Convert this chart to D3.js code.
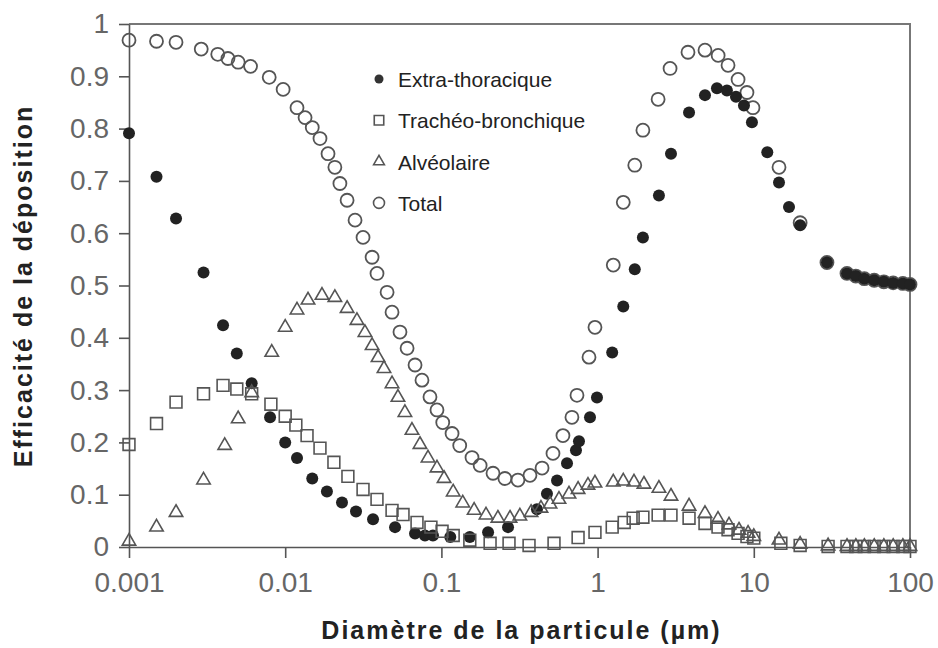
<!DOCTYPE html>
<html>
<head>
  <meta charset="utf-8">
  <title>Efficacité de la déposition</title>
  <style>
    body { margin: 0; background: #fff; }
    svg { font-family: "Liberation Sans", Arial, sans-serif; }
  </style>
</head>
<body>
  <script src="https://cdn.jsdelivr.net/npm/d3@7"></script>
  <script>
    // ---- data ----
    // Extra-thoracique (filled circles)
    var etD = [0.001, 0.0015, 0.002, 0.003, 0.004, 0.0049, 0.0061, 0.008, 0.01, 0.0119, 0.0149, 0.0185, 0.0231, 0.0284,
      0.0365, 0.0505, 0.0678, 0.0785, 0.0883, 0.114, 0.152, 0.199, 0.267, 0.409, 0.474, 0.55, 0.637, 0.727, 0.76, 0.894,
      0.991, 1.24, 1.46, 1.73, 1.95, 2.47, 2.95, 3.85, 4.87, 5.81, 6.73, 7.69, 8.65, 9.73, 12.2, 14.5, 16.8, 19.8, 29.4,
      39.5, 45, 51, 59, 68, 78, 90, 100];
    var etV = [0.791, 0.708, 0.628, 0.525, 0.424, 0.370, 0.313, 0.248, 0.200, 0.170, 0.131, 0.106, 0.085, 0.068,
      0.053, 0.038, 0.026, 0.022, 0.022, 0.019, 0.019, 0.028, 0.038, 0.072, 0.102, 0.127, 0.160, 0.185, 0.202, 0.248,
      0.286, 0.372, 0.460, 0.531, 0.592, 0.672, 0.752, 0.831, 0.864, 0.877, 0.873, 0.861, 0.844, 0.812, 0.755, 0.697, 0.650, 0.615, 0.544,
      0.523, 0.518, 0.513, 0.510, 0.507, 0.505, 0.504, 0.502];

    // Trachéo-bronchique (open squares)
    var tbD = [0.001, 0.0015, 0.002, 0.003, 0.004, 0.0049, 0.0061, 0.0081, 0.01, 0.0117, 0.0138, 0.0167, 0.0205, 0.0252,
      0.0315, 0.0387, 0.0483, 0.0568, 0.0698, 0.0857, 0.101, 0.119, 0.152, 0.205, 0.271, 0.364, 0.526, 0.75, 0.962,
      1.24, 1.48, 1.69, 1.95, 2.44, 2.95, 3.85, 4.87, 5.9, 6.84, 7.93, 9.04, 10, 14.9, 19.8, 29.9, 39.5, 45, 51, 59,
      68, 78, 90, 100];
    var tbV = [0.196, 0.236, 0.277, 0.293, 0.309, 0.302, 0.293, 0.273, 0.250, 0.233, 0.213, 0.189, 0.162, 0.135,
      0.110, 0.091, 0.070, 0.062, 0.047, 0.038, 0.030, 0.022, 0.013, 0.007, 0.007, 0.003, 0.007, 0.018, 0.028,
      0.038, 0.047, 0.055, 0.057, 0.061, 0.061, 0.055, 0.045, 0.038, 0.033, 0.026, 0.020, 0.017, 0.007, 0.003, 0.001, 0.001, 0.001, 0.001, 0.001,
      0.001, 0.001, 0.001, 0.001];

    // Alvéolaire (open triangles)
    var alD = [0.001, 0.0015, 0.002, 0.003, 0.0041, 0.005, 0.0061, 0.0082, 0.01, 0.0119, 0.014, 0.0172, 0.0208, 0.0249,
      0.0288, 0.0324, 0.036, 0.0393, 0.0429, 0.0483, 0.0527, 0.0584, 0.0648, 0.0729, 0.0821, 0.0937, 0.104, 0.119,
      0.137, 0.162, 0.193, 0.23, 0.275, 0.318, 0.375, 0.434, 0.496, 0.566, 0.656, 0.75, 0.868, 0.962, 1.26, 1.46,
      1.71, 1.98, 2.47, 2.95, 3.85, 4.87, 5.9, 6.94, 8.04, 9.19, 10, 14.5, 19.8, 29.9, 39.5, 45, 51, 59, 68, 78, 90, 100];
    var alV = [0.011, 0.038, 0.066, 0.128, 0.194, 0.245, 0.295, 0.372, 0.420, 0.453, 0.472, 0.481, 0.477, 0.456,
      0.433, 0.410, 0.385, 0.362, 0.341, 0.312, 0.286, 0.257, 0.223, 0.196, 0.170, 0.151, 0.131, 0.105,
      0.084, 0.070, 0.061, 0.055, 0.055, 0.059, 0.066, 0.074, 0.082, 0.091, 0.101, 0.110, 0.118, 0.122, 0.124, 0.126,
      0.124, 0.120, 0.112, 0.097, 0.078, 0.064, 0.053, 0.042, 0.032, 0.026, 0.020, 0.013, 0.005, 0.002, 0.001, 0.001, 0.001, 0.001, 0.001, 0.001, 0.001, 0.001];

    // Total (open circles)
    var totD = [0.001, 0.0015, 0.002, 0.0029, 0.0037, 0.0043, 0.005, 0.006, 0.0079, 0.0097, 0.0119, 0.0134, 0.0149, 0.0167,
      0.0188, 0.0208, 0.0224, 0.0249, 0.028, 0.0315, 0.036, 0.0387, 0.0449, 0.0483, 0.0543, 0.0603, 0.0678, 0.0751,
      0.0845, 0.0937, 0.102, 0.117, 0.131, 0.157, 0.177, 0.214, 0.255, 0.309, 0.369, 0.441, 0.518, 0.6, 0.685, 0.738,
      0.881, 0.962, 1.26, 1.46, 1.73, 1.95, 2.44, 2.91, 3.79, 4.87, 5.91, 6.84, 7.93, 9.04, 9.88, 14.5, 19.8, 29.4,
      39.5, 45, 51, 59, 68, 78, 90, 100];
    var totV = [0.969, 0.967, 0.965, 0.952, 0.942, 0.934, 0.927, 0.919, 0.898, 0.875, 0.840, 0.821, 0.802, 0.781,
      0.752, 0.726, 0.695, 0.663, 0.625, 0.592, 0.554, 0.523, 0.487, 0.449, 0.411, 0.380, 0.348, 0.319,
      0.287, 0.262, 0.238, 0.217, 0.194, 0.171, 0.156, 0.141, 0.131, 0.128, 0.137, 0.151, 0.179, 0.213, 0.248, 0.290,
      0.363, 0.420, 0.539, 0.659, 0.730, 0.797, 0.856, 0.915, 0.946, 0.950, 0.940, 0.921, 0.894, 0.869, 0.840, 0.726, 0.620, 0.544,
      0.523, 0.518, 0.513, 0.510, 0.507, 0.505, 0.504, 0.502];

    var seriesNames = ["Extra-thoracique", "Trachéo-bronchique", "Alvéolaire", "Total"];

    var xTicks = [0.001, 0.01, 0.1, 1, 10, 100];
    var xTickLabels = ["0.001", "0.01", "0.1", "1", "10", "100"];
    var yTicks = [0, 0.1, 0.2, 0.3, 0.4, 0.5, 0.6, 0.7, 0.8, 0.9, 1];
    var yTickLabels = ["0", "0.1", "0.2", "0.3", "0.4", "0.5", "0.6", "0.7", "0.8", "0.9", "1"];

    var xTitle = "Diamètre de la particule (µm)";
    var yTitle = "Efficacité de la déposition";

    // ---- layout ----
    var width = 938;
    var height = 648;
    var plotLeft = 129, plotRight = 910, plotTop = 24, plotBottom = 547;
    var gray = "#555";

    var x = d3.scaleLog().domain([0.001, 100]).range([plotLeft, plotRight]);
    var y = d3.scaleLinear().domain([0, 1]).range([plotBottom, plotTop]);

    var svg = d3.select("body").append("svg")
      .attr("width", width)
      .attr("height", height);

    // frame (top and right)
    svg.append("path")
      .attr("d", "M" + plotLeft + "," + plotTop + "H" + plotRight + "V" + plotBottom)
      .attr("fill", "none")
      .attr("stroke", "#777")
      .attr("stroke-width", 2);

    // x axis
    var gx = svg.append("g")
      .attr("transform", "translate(0," + plotBottom + ")")
      .call(d3.axisBottom(x).tickValues(xTicks)
        .tickFormat(function (d, i) { return xTickLabels[i]; })
        .tickSize(11).tickSizeOuter(0).tickPadding(14));

    // y axis
    var gy = svg.append("g")
      .attr("transform", "translate(" + plotLeft + ",0)")
      .call(d3.axisLeft(y).tickValues(yTicks)
        .tickFormat(function (d, i) { return yTickLabels[i]; })
        .tickSize(10).tickSizeOuter(0).tickPadding(10));

    [gx, gy].forEach(function (g) {
      g.select(".domain").attr("stroke", gray).attr("stroke-width", 1.6);
      g.selectAll(".tick line").attr("stroke", gray).attr("stroke-width", 1.6);
      g.selectAll(".tick text")
        .attr("fill", "#666")
        .style("font-size", "28px")
        .style("font-family", "'Liberation Sans', Arial, sans-serif");
    });

    // axis titles
    svg.append("text")
      .attr("x", (plotLeft + plotRight) / 2 + 2)
      .attr("y", 639)
      .attr("text-anchor", "middle")
      .attr("fill", "#222")
      .style("font-size", "25px")
      .style("font-weight", "bold")
      .style("letter-spacing", "2px")
      .text(xTitle);

    svg.append("text")
      .attr("transform", "translate(32,286) rotate(-90)")
      .attr("text-anchor", "middle")
      .attr("fill", "#222")
      .style("font-size", "25px")
      .style("font-weight", "bold")
      .style("letter-spacing", "2px")
      .text(yTitle);

    // ---- markers ----
    var square = d3.symbol().type(d3.symbolSquare).size(140);
    var triangle = d3.symbol().type(d3.symbolTriangle).size(78);

    // Total
    svg.append("g").selectAll("circle").data(d3.zip(totD, totV)).enter().append("circle")
      .attr("cx", function (d) { return x(d[0]); })
      .attr("cy", function (d) { return y(d[1]); })
      .attr("r", 6.5)
      .attr("fill", "none")
      .attr("stroke", gray)
      .attr("stroke-width", 1.8);

    // Extra-thoracique
    svg.append("g").selectAll("circle").data(d3.zip(etD, etV)).enter().append("circle")
      .attr("cx", function (d) { return x(d[0]); })
      .attr("cy", function (d) { return y(d[1]); })
      .attr("r", 6)
      .attr("fill", "#222");

    // Trachéo-bronchique
    svg.append("g").selectAll("path").data(d3.zip(tbD, tbV)).enter().append("path")
      .attr("d", square)
      .attr("transform", function (d) { return "translate(" + x(d[0]) + "," + y(d[1]) + ")"; })
      .attr("fill", "none")
      .attr("stroke", gray)
      .attr("stroke-width", 1.6);

    // Alvéolaire
    svg.append("g").selectAll("path").data(d3.zip(alD, alV)).enter().append("path")
      .attr("d", triangle)
      .attr("transform", function (d) { return "translate(" + x(d[0]) + "," + y(d[1]) + ")"; })
      .attr("fill", "none")
      .attr("stroke", gray)
      .attr("stroke-width", 1.6);

    // ---- legend ----
    var legend = svg.append("g").attr("transform", "translate(379,79)");
    var rowGap = 41.3;

    seriesNames.forEach(function (name, i) {
      var row = legend.append("g").attr("transform", "translate(0," + (i * rowGap) + ")");
      if (i === 0) {
        row.append("circle").attr("r", 4.5).attr("fill", "#333");
      } else if (i === 1) {
        row.append("path").attr("d", d3.symbol().type(d3.symbolSquare).size(90))
          .attr("fill", "none").attr("stroke", gray).attr("stroke-width", 1.6);
      } else if (i === 2) {
        row.append("path").attr("d", d3.symbol().type(d3.symbolTriangle).size(50))
          .attr("fill", "none").attr("stroke", gray).attr("stroke-width", 1.6);
      } else {
        row.append("circle").attr("r", 5.5).attr("fill", "none")
          .attr("stroke", gray).attr("stroke-width", 1.6);
      }
      row.append("text")
        .attr("x", 19)
        .attr("y", 8)
        .attr("fill", "#222")
        .style("font-size", "21px")
        .text(name);
    });
  </script>
</body>
</html>
